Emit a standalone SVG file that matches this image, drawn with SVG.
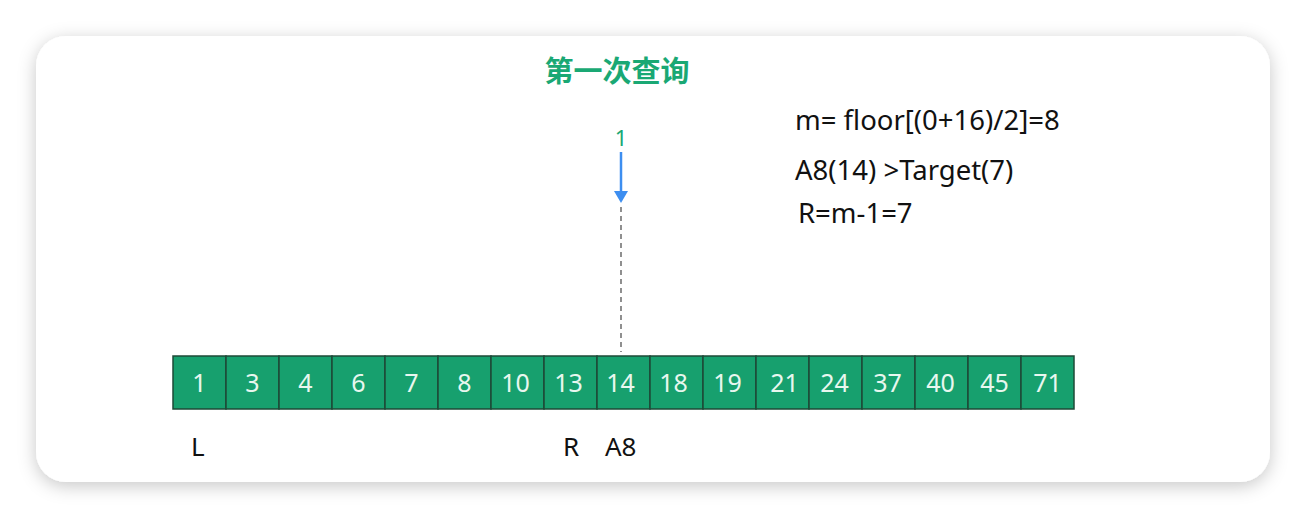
<svg xmlns="http://www.w3.org/2000/svg" width="1306" height="518" viewBox="0 0 1306 518">
<defs>
<filter id="sh" x="-10%" y="-20%" width="120%" height="140%">
<feDropShadow dx="0" dy="4" stdDeviation="9" flood-color="#000" flood-opacity="0.22"/>
</filter>
<marker id="ah" markerWidth="14" markerHeight="14" refX="1" refY="7" orient="auto" markerUnits="userSpaceOnUse" viewBox="0 0 14 14">
<path d="M0,0 L12,7 L0,14 Z" fill="#3d8ef0"/>
</marker>
<style>
.cell rect{fill:#17a06e;stroke:#1e4a37;stroke-width:1.5}
.cell text{fill:#e8f7ef;font-family:"Noto Sans","Open Sans",sans-serif;font-size:25px;text-anchor:middle}
.lbl{fill:#111;font-family:"Noto Sans","Open Sans",sans-serif;font-size:26px}
</style>
</defs>
<rect x="0" y="0" width="1306" height="518" fill="#fff"/>
<rect x="36" y="36" width="1234" height="446" rx="30" fill="#fff" filter="url(#sh)"/>
<text id="title" x="617" y="82" text-anchor="middle" fill="#1aa874" font-family="'Noto Sans CJK SC',sans-serif" font-size="29" font-weight="bold">第一次查询</text>
<g id="notes" class="lbl" style="font-size:27.5px">
<text x="795" y="130">m= floor[(0+16)/2]=8</text>
<text x="795" y="180">A8(14) &gt;Target(7)</text>
<text x="798" y="223">R=m-1=7</text>
</g>
<g id="pointer">
<text x="621" y="146" text-anchor="middle" fill="#1aa874" font-family="'Noto Sans','Open Sans',sans-serif" font-size="22">1</text>
</g>
<g id="connectors">
<line x1="621" y1="152" x2="621" y2="192" stroke="#3d8ef0" stroke-width="2.5" marker-end="url(#ah)"/>
<line x1="621" y1="207" x2="621" y2="352" stroke="#555" stroke-width="1.3" stroke-dasharray="5,4"/>
</g>
<g id="array">
<g class="cell" id="c0"><rect x="173" y="356" width="53" height="53"/><text x="199.5" y="392">1</text></g>
<g class="cell" id="c1"><rect x="226" y="356" width="53" height="53"/><text x="252.5" y="392">3</text></g>
<g class="cell" id="c2"><rect x="279" y="356" width="53" height="53"/><text x="305.5" y="392">4</text></g>
<g class="cell" id="c3"><rect x="332" y="356" width="53" height="53"/><text x="358.5" y="392">6</text></g>
<g class="cell" id="c4"><rect x="385" y="356" width="53" height="53"/><text x="411.5" y="392">7</text></g>
<g class="cell" id="c5"><rect x="438" y="356" width="53" height="53"/><text x="464.5" y="392">8</text></g>
<g class="cell" id="c6"><rect x="491" y="356" width="53" height="53"/><text x="515.5" y="392">10</text></g>
<g class="cell" id="c7"><rect x="544" y="356" width="53" height="53"/><text x="568.5" y="392">13</text></g>
<g class="cell" id="c8"><rect x="597" y="356" width="53" height="53"/><text x="620.5" y="392">14</text></g>
<g class="cell" id="c9"><rect x="650" y="356" width="53" height="53"/><text x="673.5" y="392">18</text></g>
<g class="cell" id="c10"><rect x="703" y="356" width="53" height="53"/><text x="727.5" y="392">19</text></g>
<g class="cell" id="c11"><rect x="756" y="356" width="53" height="53"/><text x="784.5" y="392">21</text></g>
<g class="cell" id="c12"><rect x="809" y="356" width="53" height="53"/><text x="834.5" y="392">24</text></g>
<g class="cell" id="c13"><rect x="862" y="356" width="53" height="53"/><text x="887.5" y="392">37</text></g>
<g class="cell" id="c14"><rect x="915" y="356" width="53" height="53"/><text x="940.5" y="392">40</text></g>
<g class="cell" id="c15"><rect x="968" y="356" width="53" height="53"/><text x="994.5" y="392">45</text></g>
<g class="cell" id="c16"><rect x="1021" y="356" width="53" height="53"/><text x="1047.5" y="392">71</text></g>
</g>
<g id="labels" class="lbl">
<text x="191" y="456">L</text>
<text x="563" y="456">R</text>
<text x="605" y="456">A8</text>
</g>
</svg>
